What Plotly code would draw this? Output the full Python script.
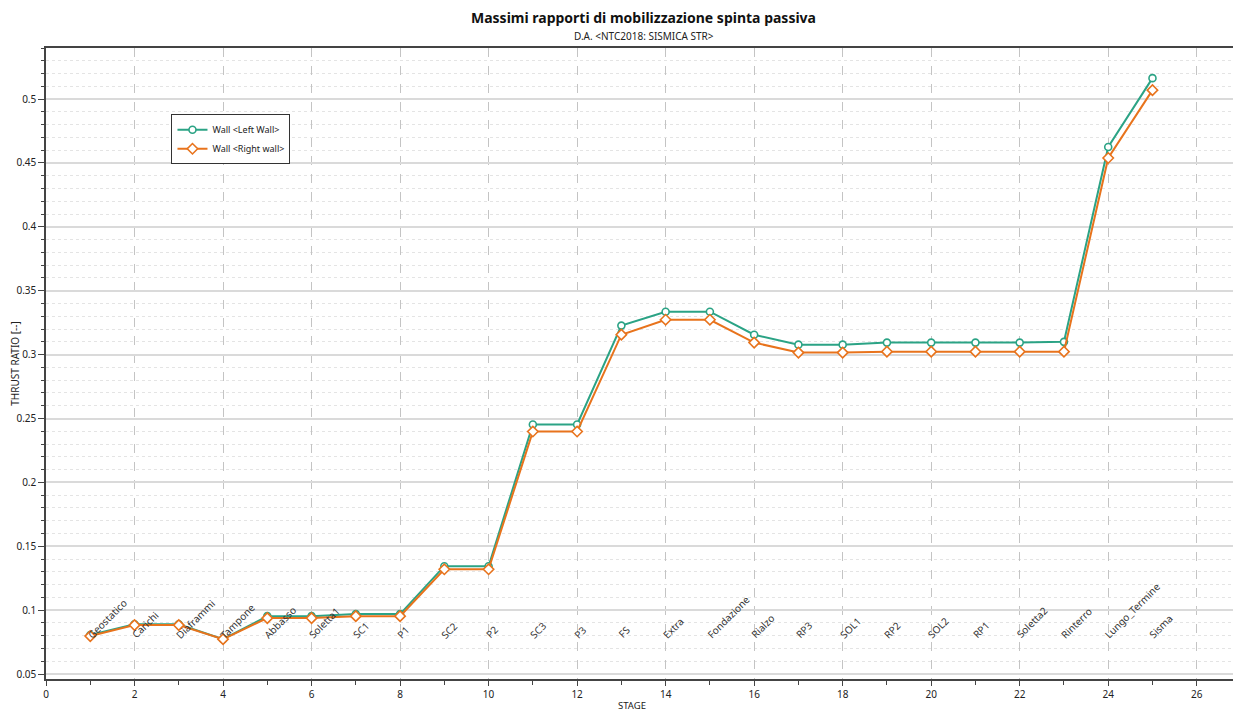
import plotly.graph_objects as go

stages = list(range(1, 26))
stage_names = ["Geostatico", "Carichi", "Diaframmi", "Tampone", "Abbasso", "Soletta1",
               "SC1", "P1", "SC2", "P2", "SC3", "P3", "FS", "Extra", "Fondazione",
               "Rialzo", "RP3", "SOL1", "RP2", "SOL2", "RP1", "Soletta2", "Rinterro",
               "Lungo_Termine", "Sisma"]
left_wall = [0.0805, 0.0890, 0.0890, 0.0773, 0.0953, 0.0953, 0.0969, 0.0969, 0.1344,
             0.1344, 0.2453, 0.2453, 0.3227, 0.3336, 0.3336, 0.3156, 0.3078, 0.3078,
             0.3094, 0.3094, 0.3094, 0.3094, 0.3100, 0.4625, 0.5164]
right_wall = [0.0797, 0.0883, 0.0883, 0.0773, 0.0938, 0.0938, 0.0953, 0.0953, 0.1320,
              0.1320, 0.2398, 0.2398, 0.3156, 0.3273, 0.3273, 0.3094, 0.3016, 0.3016,
              0.3023, 0.3023, 0.3023, 0.3023, 0.3023, 0.4539, 0.5070]

green = "#2ba385"
orange = "#e8731c"
font = "Noto Sans"

fig = go.Figure()
fig.add_trace(go.Scatter(x=stages, y=left_wall, mode="lines+markers",
                         name="Wall &lt;Left Wall&gt;",
                         line=dict(color=green, width=2),
                         marker=dict(symbol="circle", size=7, color="white",
                                     line=dict(color=green, width=1.6))))
fig.add_trace(go.Scatter(x=stages, y=right_wall, mode="lines+markers",
                         name="Wall &lt;Right wall&gt;",
                         line=dict(color=orange, width=2),
                         marker=dict(symbol="diamond", size=8, color="white",
                                     line=dict(color=orange, width=1.6))))

# stage names, rotated
for s, n in zip(stages, stage_names):
    fig.add_annotation(x=s, y=0.0735, text=n, showarrow=False, textangle=-45,
                       xanchor="left", yanchor="bottom", xshift=-9,
                       font=dict(family=font, size=10, color="#333333"))

fig.add_annotation(x=0.5, y=1.0, xref="paper", yref="paper", yshift=19,
                   text="<b>Massimi rapporti di mobilizzazione spinta passiva</b>",
                   showarrow=False, xanchor="center", yanchor="bottom",
                   font=dict(family=font, size=14, color="#111111"))
fig.add_annotation(x=0.5, y=1.0, xref="paper", yref="paper", yshift=3,
                   text="D.A. &lt;NTC2018: SISMICA STR&gt;",
                   showarrow=False, xanchor="center", yanchor="bottom",
                   font=dict(family=font, size=10, color="#222222"))
fig.add_annotation(x=0.49, y=0.0, xref="paper", yref="paper", yshift=-26,
                   text="STAGE", showarrow=False, xanchor="center", yanchor="middle",
                   font=dict(family=font, size=9.5, color="#222222"))

# page body has an 8px margin, so the figure is 8px smaller than the window
fig.update_layout(
    width=1233, height=703,
    margin=dict(l=38, r=0, t=40, b=32),
    paper_bgcolor="white", plot_bgcolor="white",
    font=dict(family=font, size=10, color="#222222"),
    showlegend=True,
    legend=dict(x=0.105, y=0.895, xanchor="left", yanchor="top",
                bordercolor="#333333", borderwidth=1, bgcolor="white",
                font=dict(family=font, size=9), itemwidth=30,
                tracegroupgap=0),
)
fig.update_xaxes(range=[0, 27], dtick=2, tick0=0, automargin=False,
                 showline=True, linecolor="#444444", linewidth=1.5, mirror=True,
                 ticks="outside", ticklen=5, tickcolor="#444444",
                 showgrid=True, gridcolor="#c4c4c4", griddash="dash", gridwidth=1,
                 zeroline=False,
                 minor=dict(dtick=1, ticks="outside", ticklen=4, tickcolor="#444444",
                            showgrid=False))
fig.update_yaxes(range=[0.0461, 0.540], dtick=0.05, tick0=0.05, automargin=False,
                 showline=True, linecolor="#444444", linewidth=1.5,
                 ticks="outside", ticklen=6, tickcolor="#444444",
                 showgrid=True, gridcolor="#dadada", gridwidth=1.5,
                 zeroline=False,
                 minor=dict(dtick=0.01, tick0=0, ticks="outside", ticklen=3,
                            tickcolor="#444444", showgrid=True,
                            gridcolor="#e4e4e4", griddash="dot", gridwidth=1),
                 title=dict(text="THRUST RATIO [--]", standoff=4, font=dict(size=10)))

fig.write_html("out.html")
